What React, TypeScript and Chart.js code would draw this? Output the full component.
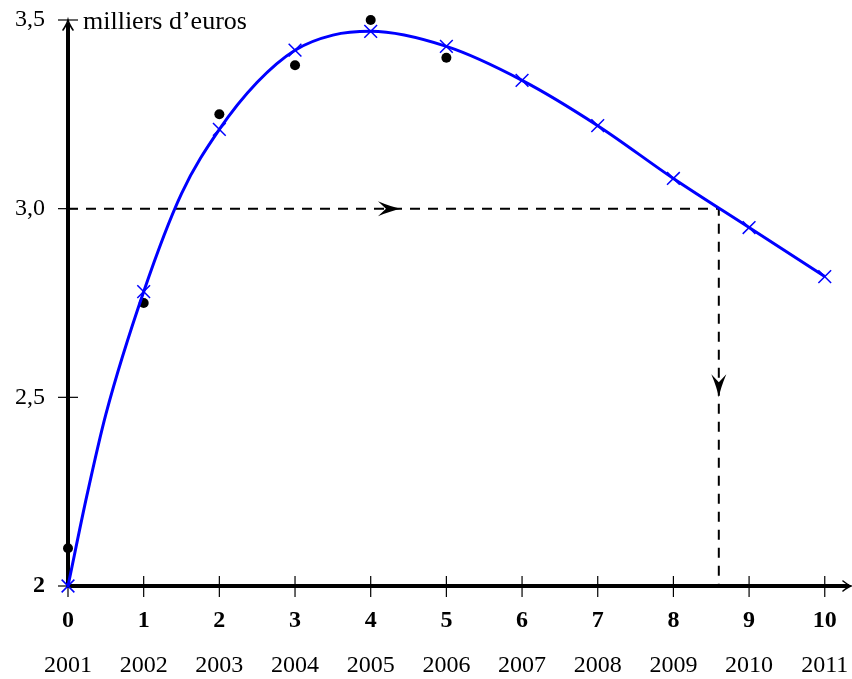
import React, { useEffect, useRef } from "react";
import { Chart, registerables } from "chart.js";

Chart.register(...registerables);

// ---- data ----
const xTicks = [0, 1, 2, 3, 4, 5, 6, 7, 8, 9, 10];
const yearLabels = ["2001", "2002", "2003", "2004", "2005", "2006", "2007", "2008", "2009", "2010", "2011"];
const yTicks = [2, 2.5, 3, 3.5];
const yTickLabels = ["2", "2,5", "3,0", "3,5"];
const unitLabel = "milliers d\u2019euros";

const curveX = [0, 0.25, 0.5, 1, 1.5, 2, 2.5, 3, 3.5, 4, 5, 6, 7, 8, 9, 10];
const curveY = [2.0, 2.24, 2.455, 2.78, 3.04, 3.21, 3.335, 3.42, 3.46, 3.47, 3.43, 3.34, 3.22, 3.08, 2.95, 2.82];

const crossX = [0, 1, 2, 3, 4, 5, 6, 7, 8, 9, 10];
const crossY = [2.0, 2.78, 3.21, 3.42, 3.47, 3.43, 3.34, 3.22, 3.08, 2.95, 2.82];

const dotX = [0, 1, 2, 3, 4, 5];
const dotY = [2.1, 2.75, 3.25, 3.38, 3.5, 3.4];

const guideX = [0, 8.6, 8.6];
const guideY = [3.0, 3.0, 2.0];

const arrowX = [4.4, 8.6];
const arrowY = [3.0, 2.5];
const arrowDir = ["right", "down"];

const X_MIN = 0;
const X_MAX = 10.36;
const Y_MIN = 2;
const Y_MAX = 3.5;

const FONT = '"Liberation Serif", "DejaVu Serif", serif';

const zip = (xs: number[], ys: number[]) => xs.map((x, i) => ({ x, y: ys[i] }));

const overlayPlugin = {
  id: "overlay",
  beforeDatasetsDraw(chart: any) {
    const { ctx } = chart;
    const xs = chart.scales.x;
    const ys = chart.scales.y;
    const x0 = xs.getPixelForValue(0);
    const y0 = ys.getPixelForValue(Y_MIN);
    const yTop = ys.getPixelForValue(Y_MAX);
    const xEnd = xs.right - 1;
    const line = (a: number, b: number, c: number, d: number) => {
      ctx.beginPath();
      ctx.moveTo(a, b);
      ctx.lineTo(c, d);
      ctx.stroke();
    };
    ctx.save();
    ctx.strokeStyle = "#000";
    ctx.lineWidth = 1.2;
    xTicks.forEach((v) => {
      const p = xs.getPixelForValue(v);
      line(p, y0 - 10, p, y0 + 11);
    });
    yTicks.forEach((v) => {
      const p = ys.getPixelForValue(v);
      line(x0 - 10, p, x0 + 10, p);
    });
    // axes
    ctx.lineWidth = 4;
    line(x0, y0 + 2, x0, yTop + 3);
    line(x0 - 2, y0, xEnd - 2, y0);
    // arrow heads of axes
    ctx.lineWidth = 1.6;
    ctx.lineCap = "round";
    ctx.beginPath();
    ctx.moveTo(x0 - 5, yTop + 10);
    ctx.quadraticCurveTo(x0 - 1, yTop + 4, x0, yTop);
    ctx.quadraticCurveTo(x0 + 1, yTop + 4, x0 + 5, yTop + 10);
    ctx.stroke();
    ctx.beginPath();
    ctx.moveTo(xEnd - 8, y0 - 5);
    ctx.quadraticCurveTo(xEnd - 3, y0 - 1, xEnd, y0);
    ctx.quadraticCurveTo(xEnd - 3, y0 + 1, xEnd - 8, y0 + 5);
    ctx.stroke();
    // unit label
    ctx.fillStyle = "#000";
    ctx.font = `26px ${FONT}`;
    ctx.textAlign = "left";
    ctx.textBaseline = "alphabetic";
    ctx.fillText(unitLabel, x0 + 15, yTop + 9);
    ctx.restore();
  },
  afterDatasetsDraw(chart: any) {
    const { ctx } = chart;
    const xs = chart.scales.x;
    const ys = chart.scales.y;
    ctx.save();
    ctx.fillStyle = "#000";
    arrowX.forEach((v, i) => {
      const tx = xs.getPixelForValue(v);
      const ty = ys.getPixelForValue(arrowY[i]);
      ctx.save();
      ctx.translate(tx, ty);
      if (arrowDir[i] === "down") ctx.rotate(Math.PI / 2);
      ctx.beginPath();
      ctx.moveTo(0, 0);
      ctx.quadraticCurveTo(-10, -2, -23, -7.5);
      ctx.lineTo(-15, 0);
      ctx.lineTo(-23, 7.5);
      ctx.quadraticCurveTo(-10, 2, 0, 0);
      ctx.closePath();
      ctx.fill();
      ctx.restore();
    });
    ctx.restore();
  },
};

export default function App() {
  const ref = useRef<HTMLCanvasElement | null>(null);

  useEffect(() => {
    if (!ref.current) return;
    const chart = new Chart(ref.current, {
      type: "line",
      data: {
        datasets: [
          {
            label: "courbe",
            data: zip(curveX, curveY),
            borderColor: "#0000ff",
            borderWidth: 3,
            pointRadius: 0,
            cubicInterpolationMode: "monotone",
            clip: false,
          },
          {
            label: "croix",
            data: zip(crossX, crossY),
            showLine: false,
            pointStyle: "crossRot",
            pointRadius: 9,
            pointBorderColor: "#0000ff",
            pointBorderWidth: 1.5,
            clip: false,
          },
          {
            label: "points",
            data: zip(dotX, dotY),
            showLine: false,
            pointStyle: "circle",
            pointRadius: 5,
            pointBackgroundColor: "#000",
            pointBorderWidth: 0,
            clip: false,
          },
          {
            label: "guide",
            data: zip(guideX, guideY),
            borderColor: "#000",
            borderWidth: 2,
            borderDash: [10, 8],
            pointRadius: 0,
            tension: 0,
            clip: false,
          },
        ] as any,
      },
      options: {
        animation: false,
        responsive: true,
        maintainAspectRatio: false,
        events: [],
        layout: { autoPadding: false, padding: { top: 20, left: 0, right: 0, bottom: 0 } },
        plugins: { legend: { display: false }, tooltip: { enabled: false } },
        scales: {
          x: {
            type: "linear",
            position: "bottom",
            min: X_MIN,
            max: X_MAX,
            weight: 0,
            grid: { display: false, drawTicks: false },
            border: { display: false },
            afterBuildTicks: (s: any) => {
              s.ticks = xTicks.map((v) => ({ value: v }));
            },
            afterFit: (s: any) => {
              s.height = 50;
              s.paddingLeft = 0;
              s.paddingRight = 0;
            },
            ticks: {
              autoSkip: false,
              maxRotation: 0,
              padding: 20,
              color: "#000",
              font: { family: FONT, size: 24, weight: "bold" },
              callback: (v: any) => String(v),
            },
          },
          x2: {
            type: "linear",
            position: "bottom",
            min: X_MIN,
            max: X_MAX,
            weight: 1,
            grid: { display: false, drawTicks: false },
            border: { display: false },
            afterBuildTicks: (s: any) => {
              s.ticks = xTicks.map((v) => ({ value: v }));
            },
            afterFit: (s: any) => {
              s.height = 43;
              s.paddingLeft = 0;
              s.paddingRight = 0;
            },
            ticks: {
              autoSkip: false,
              maxRotation: 0,
              padding: 15,
              color: "#000",
              font: { family: FONT, size: 24 },
              callback: (v: any) => yearLabels[xTicks.indexOf(Number(v))] ?? "",
            },
          },
          y: {
            type: "linear",
            position: "left",
            min: Y_MIN,
            max: Y_MAX,
            grid: { display: false, drawTicks: false },
            border: { display: false },
            afterBuildTicks: (s: any) => {
              s.ticks = yTicks.map((v) => ({ value: v }));
            },
            afterFit: (s: any) => {
              s.width = 68;
              s.paddingTop = 0;
              s.paddingBottom = 0;
            },
            ticks: {
              padding: 23,
              color: "#000",
              font: (c: any) => ({
                family: FONT,
                size: 24,
                weight: c.tick && c.tick.value === 2 ? "bold" : "normal",
              }),
              callback: (v: any) => yTickLabels[yTicks.indexOf(Number(v))] ?? "",
            },
          },
        },
      } as any,
      plugins: [overlayPlugin],
    });
    return () => chart.destroy();
  }, []);

  return (
    <div style={{ position: "fixed", left: 0, top: 0, width: 852, height: 679, background: "#fff" }}>
      <canvas ref={ref} />
    </div>
  );
}
